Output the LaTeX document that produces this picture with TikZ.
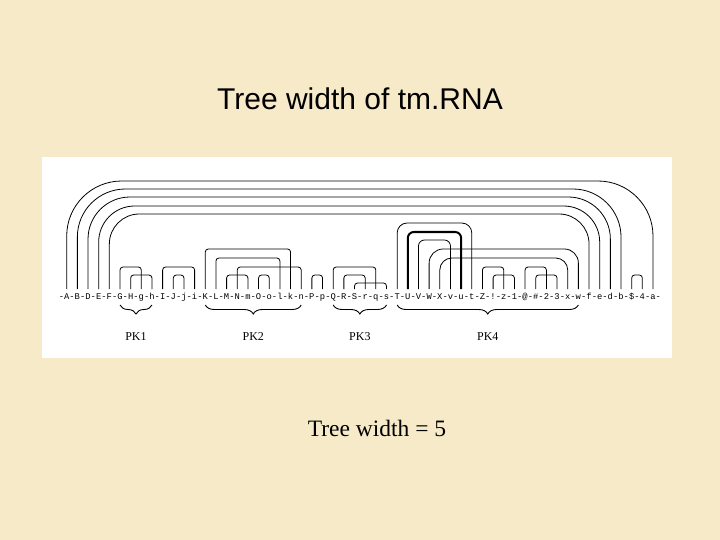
\documentclass[tikz,border=0pt]{standalone}
\usepackage{fontspec}
\setmainfont{Liberation Serif}
\setsansfont{Liberation Sans}
\setmonofont{Liberation Mono}
\usetikzlibrary{decorations.pathreplacing,calc}
\begin{document}
\begin{tikzpicture}[x=1pt,y=-1pt,
  ch/.style={inner sep=0pt,font=\ttfamily\fontsize{8.8}{9}\selectfont,anchor=base},
  arc/.style={line width=0.8pt},
  brc/.style={decorate,decoration={brace,mirror,amplitude=9pt},line width=0.9pt},
  pk/.style={font=\fontsize{12}{12}\selectfont}]
\fill[color={rgb,255:red,246;green,234;blue,200}] (0,0) rectangle (720,540);
\useasboundingbox (0,0) rectangle (720,540);
\fill[white] (42,157) rectangle (672,358);
\node[font=\sffamily\fontsize{30}{32}\selectfont] (title) at (360,99) {Tree width of tm.RNA};
\node[font=\fontsize{23.5}{25}\selectfont] (tw) at (377,428) {Tree width = 5};
\foreach \c [count=\i] in {A,B,D,E,F,G,H,g,h,I,J,j,i,K,L,M,N,m,O,o,l,k,n,P,p,Q,R,S,r,q,s,T,U,V,W,X,v,u,t,Z,!,z,1,@,\#,2,3,x,w,f,e,d,b,\$,4,a}{
  \node[ch] (n\i) at ({66.7+(\i-1)*10.66},299) {\c};
  \node[ch] (d\i) at ({61.4+(\i-1)*10.66},299) {-};
  \coordinate (t\i) at ({66.7+(\i-1)*10.66},289);
  \coordinate (b\i) at ({66.7+(\i-1)*10.66},305);
}
\node[ch] (dend) at ({61.4+56*10.66},299) {-};
% arcs
\foreach \a/\b/\t/\r in {1/56/181/55,2/53/189/48,3/52/197/42,4/51/206/36,5/50/214/30,
  32/39/223/10,34/37/240/6,35/49/249/14,36/48/258/12}
  \draw[arc,rounded corners=\r] (t\a) -- (t\a |- 0,\t) -- (t\b |- 0,\t) -- (t\b);
\draw[arc,line width=2pt,rounded corners=6] (t33) -- (t33 |- 0,232) -- (t38 |- 0,232) -- (t38);
\foreach \a/\b/\t in {6/8/267,7/9/275,10/13/267,11/12/275,14/22/249,15/21/258,16/18/275,17/23/267,19/20/275,
  24/25/275,26/30/267,27/29/275,28/31/283,40/42/267,41/43/275,44/46/267,45/47/275,54/55/275}
  \draw[arc,rounded corners=3] (t\a) -- (t\a |- 0,\t) -- (t\b |- 0,\t) -- (t\b);
% braces
\foreach \a/\b/\l/\nm in {6/9/PK1/p1,14/23/PK2/p2,26/31/PK3/p3,32/49/PK4/p4}{
  \draw[brc] (b\a) -- (b\b);
  \node[pk] (\nm) at ($(b\a)!0.5!(b\b)+(0,32)$) {\l};
}
\end{tikzpicture}
\end{document}
